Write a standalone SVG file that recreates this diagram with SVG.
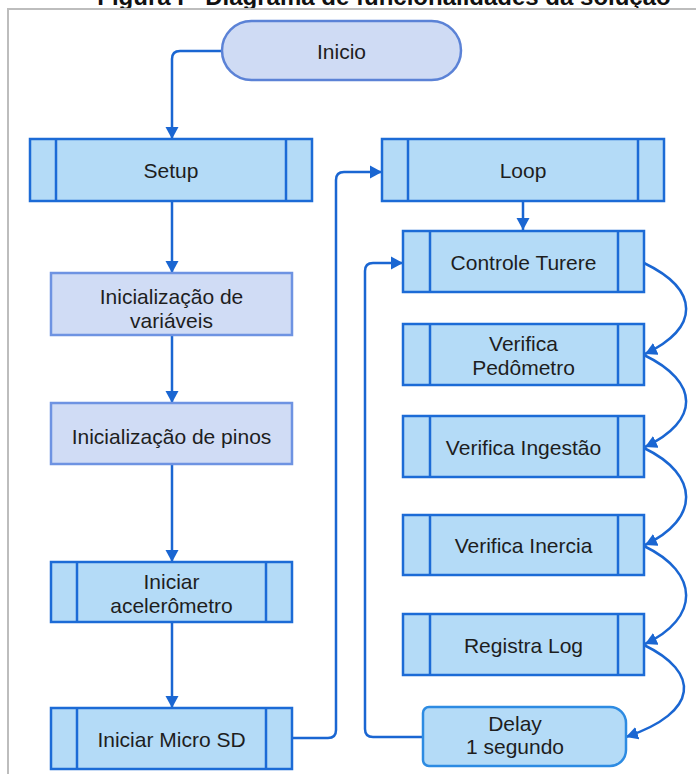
<svg xmlns="http://www.w3.org/2000/svg" width="696" height="774" viewBox="0 0 696 774">
<style>
text{font-family:"Liberation Sans",Arial,sans-serif;font-size:21px;fill:#1e1e1e;text-anchor:middle;dominant-baseline:central}
.title{font-size:24px;font-weight:bold;fill:#111;dominant-baseline:alphabetic}
.sub{fill:#b4dbf7;stroke:#1c6bd6;stroke-width:2.5}
.proc{fill:#d0dcf5;stroke:#6e93e2;stroke-width:2.5}
.term{fill:#cfdbf4;stroke:#5b82d6;stroke-width:2.5}
.delay{fill:#b4dbf7;stroke:#2d8be2;stroke-width:2.5}
.in{fill:none;stroke:#1c6bd6;stroke-width:2.5}
.c{fill:none;stroke:#1a66d2;stroke-width:2.5;marker-end:url(#ah)}
.c0{fill:none;stroke:#1a66d2;stroke-width:2.5}
</style>
<defs>
<marker id="ah" markerUnits="userSpaceOnUse" markerWidth="14" markerHeight="14" refX="12" refY="7" orient="auto">
<path d="M0,0.5 L12,7 L0,13.5 z" fill="#1a66d2"/>
</marker>
</defs>
<rect width="696" height="774" fill="#fff"/>
<text class="title" x="384" y="5">Figura I - Diagrama de funcionalidades da solução</text>
<path d="M8,774 V9 H696" fill="none" stroke="#bdbdbd" stroke-width="2"/>

<g id="connectors">
<path class="c" d="M221,51 H180 Q172,51 172,59 V139"/>
<path class="c" d="M172,201 V273"/>
<path class="c" d="M172,335 V403"/>
<path class="c" d="M172,464 V562"/>
<path class="c" d="M172,622 V708"/>
<path class="c" d="M292,738 H328 Q336,738 336,730 V180 Q336,172 344,172 H382"/>
<path class="c" d="M523,201 V230"/>
<path class="c" d="M423,737 H373 Q365,737 365,729 V271 Q365,263 373,263 H403"/>
<path class="c" d="M644,263 C700,290 700,328 645,354"/>
<path class="c" d="M644,355 C700,382 700,421 645,447"/>
<path class="c" d="M644,448 C700,475 700,519 645,545"/>
<path class="c" d="M644,546 C700,573 700,618 645,644"/>
<path class="c" d="M644,645 C700,672 700,712 626,737"/>
</g>

<g id="inicio">
<rect class="term" x="222" y="21" width="239" height="59" rx="29.5"/>
<text x="341.5" y="51">Inicio</text>
</g>

<g id="setup">
<rect class="sub" x="30" y="139" width="282" height="62"/>
<path class="in" d="M56,139 V201 M286,139 V201"/>
<text x="171" y="170">Setup</text>
</g>

<g id="init-vars">
<rect class="proc" x="51" y="273" width="241" height="62"/>
<text x="171.5" y="296">Inicialização de</text>
<text x="171.5" y="320">variáveis</text>
</g>

<g id="init-pinos">
<rect class="proc" x="51" y="403" width="241" height="61"/>
<text x="171.5" y="436">Inicialização de pinos</text>
</g>

<g id="iniciar-acel">
<rect class="sub" x="51" y="562" width="241" height="60"/>
<path class="in" d="M77,562 V622 M266,562 V622"/>
<text x="171.5" y="581">Iniciar</text>
<text x="171.5" y="605">acelerômetro</text>
</g>

<g id="iniciar-sd">
<rect class="sub" x="51" y="708" width="241" height="61"/>
<path class="in" d="M77,708 V769 M266,708 V769"/>
<text x="171.5" y="739">Iniciar Micro SD</text>
</g>

<g id="loop">
<rect class="sub" x="382" y="139" width="282" height="62"/>
<path class="in" d="M408,139 V201 M638,139 V201"/>
<text x="523" y="170">Loop</text>
</g>

<g id="controle-turere">
<rect class="sub" x="403" y="231" width="241" height="61"/>
<path class="in" d="M430,231 V292 M618,231 V292"/>
<text x="523.5" y="262">Controle Turere</text>
</g>

<g id="verifica-pedometro">
<rect class="sub" x="403" y="324" width="241" height="61"/>
<path class="in" d="M430,324 V385 M618,324 V385"/>
<text x="523.5" y="343">Verifica</text>
<text x="523.5" y="367">Pedômetro</text>
</g>

<g id="verifica-ingestao">
<rect class="sub" x="403" y="416" width="241" height="61"/>
<path class="in" d="M430,416 V477 M618,416 V477"/>
<text x="523.5" y="447">Verifica Ingestão</text>
</g>

<g id="verifica-inercia">
<rect class="sub" x="403" y="515" width="241" height="60"/>
<path class="in" d="M430,515 V575 M618,515 V575"/>
<text x="523.5" y="545">Verifica Inercia</text>
</g>

<g id="registra-log">
<rect class="sub" x="403" y="614" width="241" height="61"/>
<path class="in" d="M430,614 V675 M618,614 V675"/>
<text x="523.5" y="645">Registra Log</text>
</g>

<g id="delay">
<path class="delay" d="M429,707 H610 A16,16 0 0 1 626,723 V750 A16,16 0 0 1 610,766 H429 A6,6 0 0 1 423,760 V713 A6,6 0 0 1 429,707 Z"/>
<text x="515" y="723">Delay</text>
<text x="515" y="746">1 segundo</text>
</g>
</svg>
